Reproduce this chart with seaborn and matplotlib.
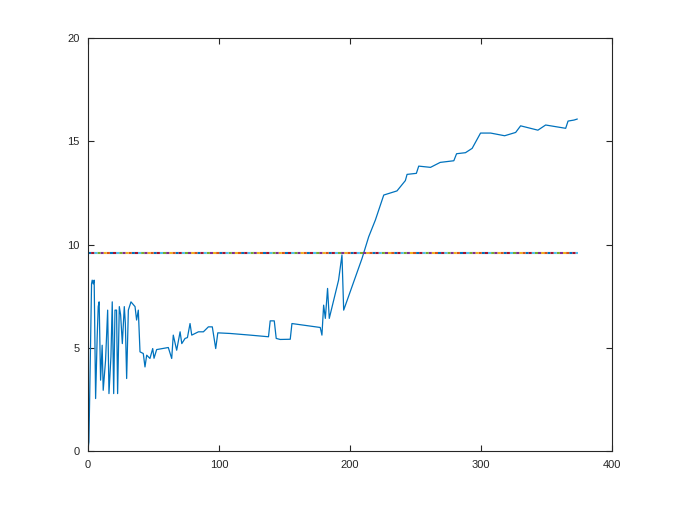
import numpy as np
import pandas as pd
import matplotlib
matplotlib.use("Agg")
import matplotlib.pyplot as plt
import seaborn as sns

# series (sample index, value)
x_vals = [0, 0.8, 2.8, 3.3, 4.1, 4.8, 5.9, 7.1, 7.9, 8.6,
          9.7, 10.9, 11.7, 13.5, 15.1, 16.1, 17.6, 18.6, 19.7, 20.7,
          21.9, 22.7, 24.0, 25.0, 26.3, 27.8, 28.6, 29.6, 30.9, 32.9,
          36.0, 37.2, 38.5, 39.8, 42.3, 43.6, 44.9, 47.4, 49.5, 50.5,
          52.5, 61.4, 64.0, 65.2, 67.8, 70.4, 71.7, 74.2, 76.0, 78.0,
          79.3, 84.4, 88.2, 92.0, 95.0, 97.6, 99.2, 108.6, 123.9, 137.9,
          139.2, 142.3, 143.8, 146.8, 154.5, 155.8, 177.4, 178.7, 180.0, 181.3,
          183.0, 184.3, 191.4, 194.0, 195.3, 209.3, 214.4, 219.5, 225.9, 236.0,
          242.4, 243.7, 250.8, 252.6, 261.6, 269.0, 279.4, 281.5, 288.3, 293.4,
          299.8, 307.5, 318.2, 326.6, 330.4, 343.6, 349.5, 364.8, 366.6, 371.2,
          373.7]
y_vals = [0.05, 0.45, 8.1, 8.28, 8.1, 8.28, 2.55, 5.54, 7.0, 7.23,
          3.44, 5.13, 2.95, 4.4, 6.83, 2.79, 4.57, 7.23, 2.79, 6.83,
          6.83, 2.79, 7.0, 6.6, 5.21, 7.0, 6.2, 3.52, 6.83, 7.23,
          7.0, 6.35, 6.83, 4.81, 4.73, 4.08, 4.65, 4.49, 4.97, 4.5,
          4.92, 5.02, 4.49, 5.62, 4.89, 5.78, 5.21, 5.46, 5.5, 6.18,
          5.62, 5.78, 5.78, 6.02, 6.02, 4.97, 5.73, 5.7, 5.62, 5.54,
          6.31, 6.31, 5.46, 5.41, 5.42, 6.18, 5.99, 5.62, 7.07, 6.43,
          7.88, 6.43, 8.28, 9.5, 6.83, 9.33, 10.38, 11.19, 12.4, 12.6,
          13.1, 13.4, 13.45, 13.8, 13.74, 13.98, 14.06, 14.4, 14.45, 14.66,
          15.4, 15.4, 15.27, 15.43, 15.75, 15.54, 15.79, 15.63, 15.98, 16.03,
          16.08]

mean_level = 9.6
mean_span = [0, 374]

octave_colors = ["#0072BD", "#D95319", "#EDB120", "#7E2F8E",
                 "#77AC30", "#4DBEEE", "#A2142F"]

df = pd.DataFrame({"x": x_vals, "y": y_vals})

sns.set_style("white")
plt.rcParams["font.family"] = ["Liberation Sans", "DejaVu Sans"]

fig = plt.figure(figsize=(6.76, 5.07), dpi=100)
ax = fig.add_axes([0.13, 0.11, 0.775, 0.815])

sns.lineplot(data=df, x="x", y="y", ax=ax, color=octave_colors[0],
             linewidth=0.9, estimator=None, sort=False)

# the flat level drawn as interleaved dotted lines in each colour
n = len(octave_colors)
seg = 1.5
for i, c in enumerate(octave_colors):
    ax.plot(mean_span, [mean_level, mean_level], color=c, linewidth=1.5,
            linestyle=(i * seg, (seg, seg * (n - 1))))

ax.set_xlim(0, 400)
ax.set_ylim(0, 20)
ax.set_xticks([0, 100, 200, 300, 400])
ax.set_yticks([0, 5, 10, 15, 20])
ax.set_xlabel("")
ax.set_ylabel("")

for s in ax.spines.values():
    s.set_visible(True)
    s.set_color("#262626")
    s.set_linewidth(0.8)
ax.tick_params(direction="in", length=4, width=0.8, color="#262626",
               labelsize=8, labelcolor="#262626", top=True, right=True,
               bottom=True, left=True, pad=6)

fig.savefig("out.png", dpi=100)
